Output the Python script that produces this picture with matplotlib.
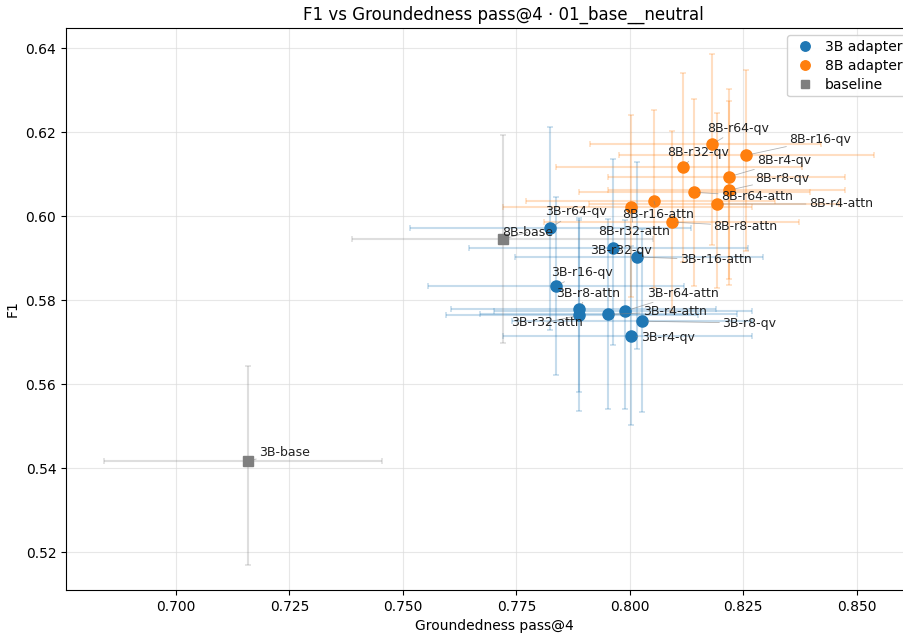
import matplotlib
matplotlib.use("Agg")
import matplotlib.pyplot as plt
import numpy as np

# ---- data ----
labels_3b = ["3B-r64-qv", "3B-r32-qv", "3B-r16-attn", "3B-r16-qv", "3B-r8-attn",
             "3B-r32-attn", "3B-r4-attn", "3B-r64-attn", "3B-r8-qv", "3B-r4-qv"]
x_3b = [0.7824, 0.7963, 0.8015, 0.7837, 0.7888, 0.7888, 0.7952, 0.7989, 0.8027, 0.8002]
x_3b_lo = [0.7515, 0.7645, 0.7747, 0.7556, 0.7607, 0.7594, 0.7670, 0.7700, 0.7740, 0.7721]
x_3b_hi = [0.8134, 0.8260, 0.8294, 0.8120, 0.8190, 0.8150, 0.8235, 0.8270, 0.8270, 0.8270]
y_3b = [0.5972, 0.5925, 0.5903, 0.5833, 0.5779, 0.5764, 0.5766, 0.5774, 0.5750, 0.5714]
y_3b_lo = [0.5730, 0.5693, 0.5683, 0.5621, 0.5582, 0.5536, 0.5540, 0.5540, 0.5534, 0.5502]
y_3b_hi = [0.6213, 0.6137, 0.6129, 0.6045, 0.5995, 0.5990, 0.5994, 0.5990, 0.5970, 0.5930]

labels_8b = ["8B-r64-qv", "8B-r16-qv", "8B-r32-qv", "8B-r4-qv", "8B-r8-qv",
             "8B-r64-attn", "8B-r4-attn", "8B-r16-attn", "8B-r32-attn", "8B-r8-attn"]
x_8b = [0.8181, 0.8256, 0.8117, 0.8219, 0.8219, 0.8141, 0.8192, 0.8053, 0.8002, 0.8092]
x_8b_lo = [0.7912, 0.7976, 0.7837, 0.7952, 0.7952, 0.7888, 0.7910, 0.7772, 0.7721, 0.7810]
x_8b_hi = [0.8422, 0.8537, 0.8380, 0.8474, 0.8474, 0.8396, 0.8460, 0.8320, 0.8270, 0.8372]
y_8b = [0.6171, 0.6145, 0.6117, 0.6094, 0.6062, 0.6057, 0.6029, 0.6036, 0.6021, 0.5986]
y_8b_lo = [0.5931, 0.5917, 0.5890, 0.5836, 0.5850, 0.5834, 0.5829, 0.5829, 0.5807, 0.5775]
y_8b_hi = [0.6386, 0.6347, 0.6340, 0.6303, 0.6275, 0.6278, 0.6245, 0.6252, 0.6241, 0.6202]

labels_base = ["3B-base", "8B-base"]
x_base = [0.7159, 0.7720]
x_base_lo = [0.6842, 0.7388]
x_base_hi = [0.7454, 0.8050]
y_base = [0.5417, 0.5945]
y_base_lo = [0.5169, 0.5697]
y_base_hi = [0.5643, 0.6193]

xticks = [0.700, 0.725, 0.750, 0.775, 0.800, 0.825, 0.850]
yticks = [0.52, 0.54, 0.56, 0.58, 0.60, 0.62, 0.64]

# label offsets (points): (dx, dy), text anchored left / center
offsets = {
    "3B-base": (7.9, 6.5), "8B-base": (-0.7, 5.0),
    "3B-r64-qv": (-3.6, 11.5), "3B-r32-qv": (-16.6, -2.2), "3B-r16-attn": (31, -2.2),
    "3B-r16-qv": (-3.6, 10), "3B-r8-attn": (-16.6, 11.5), "3B-r32-attn": (-49, -5),
    "3B-r4-attn": (25, 2.2), "3B-r64-attn": (15.8, 13), "3B-r8-qv": (57.6, -1.4),
    "3B-r4-qv": (7.2, -0.7),
    "8B-r64-qv": (-3.6, 11.5), "8B-r16-qv": (31, 11.5), "8B-r32-qv": (-11.5, 10.8),
    "8B-r4-qv": (20, 11.5), "8B-r8-qv": (18.7, 8.6), "8B-r64-attn": (19.4, -2.9),
    "8B-r4-attn": (66, 0), "8B-r16-attn": (-23, -9.4), "8B-r32-attn": (-23.8, -17.3),
    "8B-r8-attn": (30, -2.9),
}

AX_RIGHT = 923
fig = plt.figure(figsize=(9.04, 6.35), dpi=100)
ax = fig.add_axes([66 / 904, 1 - 590 / 635, (AX_RIGHT - 66) / 904, (590 - 28) / 635])


def draw(xs, xlo, xhi, ys, ylo, yhi, color, marker, label, ms):
    xs = np.array(xs); ys = np.array(ys)
    xerr = np.vstack([xs - np.array(xlo), np.array(xhi) - xs])
    yerr = np.vstack([ys - np.array(ylo), np.array(yhi) - ys])
    ax.errorbar(xs, ys, xerr=xerr, yerr=yerr, fmt='none', ecolor=color,
                alpha=0.25, elinewidth=1.5, capsize=2.5, capthick=1.2, zorder=2)
    ax.plot(xs, ys, linestyle='none', marker=marker, color=color, ms=ms,
            label=label, zorder=3)


draw(x_3b, x_3b_lo, x_3b_hi, y_3b, y_3b_lo, y_3b_hi, '#1f77b4', 'o', '3B adapter', 8)
draw(x_8b, x_8b_lo, x_8b_hi, y_8b, y_8b_lo, y_8b_hi, '#ff7f0e', 'o', '8B adapter', 8)
draw(x_base, x_base_lo, x_base_hi, y_base, y_base_lo, y_base_hi, '#7f7f7f', 's', 'baseline', 7.5)

all_labels = labels_3b + labels_8b + labels_base
all_x = x_3b + x_8b + x_base
all_y = y_3b + y_8b + y_base
for lab, xv, yv in zip(all_labels, all_x, all_y):
    dx, dy = offsets[lab]
    ax.annotate(lab, (xv, yv), xytext=(dx, dy), textcoords='offset points',
                ha='left', va='center', fontsize=9, color='#222222', zorder=4,
                arrowprops=dict(arrowstyle='-', color='gray', lw=0.6, alpha=0.6,
                                shrinkA=0, shrinkB=4))

ax.set_xlim(0.6758, 0.6758 + (AX_RIGHT - 66) / 4540)
ax.set_ylim(0.5110, 0.6448)
ax.set_xticks(xticks)
ax.set_yticks(yticks)
ax.set_xticklabels([f"{t:.3f}" for t in xticks])
ax.set_yticklabels([f"{t:.2f}" for t in yticks])
ax.grid(True, color='#dddddd', alpha=0.7, linewidth=0.8)
ax.set_axisbelow(True)
ax.set_xlabel("Groundedness pass@4", fontsize=10)
ax.set_ylabel("F1", fontsize=10)
ax.set_title("F1 vs Groundedness pass@4 · 01_base__neutral", fontsize=12,
             x=(503 - 66) / (AX_RIGHT - 66))
ax.legend(loc='upper left', bbox_to_anchor=(787 / 904, 1 - 35 / 635),
          bbox_transform=fig.transFigure, borderaxespad=0, borderpad=0.35,
          fontsize=10, framealpha=0.9, labelspacing=0.35, markerscale=0.85,
          handletextpad=0.5, handlelength=1.9)

fig.savefig("out.png", dpi=100)
